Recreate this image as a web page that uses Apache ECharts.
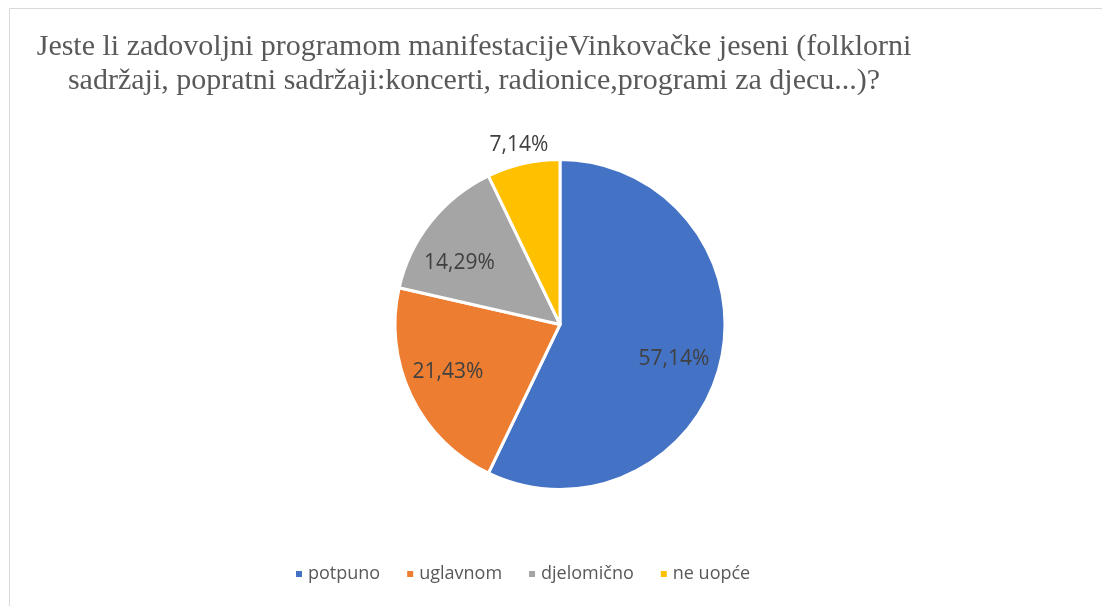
<!DOCTYPE html>
<html>
<head>
<meta charset="utf-8">
<script src="https://cdn.jsdelivr.net/npm/echarts@6/dist/echarts.min.js"></script>
<style>
  html, body { margin: 0; padding: 0; background: #fff; }
  #main { width: 1102px; height: 606px; }
</style>
</head>
<body>
<div id="main"></div>
<script>
var categories = ['potpuno', 'uglavnom', 'djelomično', 'ne uopće'];
var values = [57.14, 21.43, 14.29, 7.14];
var colors = ['#4472C4', '#ED7D31', '#A5A5A5', '#FFC000'];
var titleText = 'Jeste li zadovoljni programom manifestacijeVinkovačke jeseni (folklorni\nsadržaji, popratni sadržaji:koncerti, radionice,programi za djecu...)?';

var center = [560, 324.5];

function pct(p) {
    return p.value.toFixed(2).replace('.', ',') + '%';
}

var pieData = categories.map(function (c, i) {
    return { name: c, value: values[i], itemStyle: { color: colors[i] } };
});

// labels sitting inside the slices (first three)
var innerLabels = categories.map(function (c, i) {
    return { name: c, value: values[i], label: { show: i < 3 } };
});
// label just outside the small slice
var outerLabels = categories.map(function (c, i) {
    return { name: c, value: values[i], label: { show: i == 3 } };
});

var labelStyle = {
    position: 'inside',
    formatter: pct,
    color: '#404040',
    fontFamily: 'Open Sans',
    fontSize: 21
};

// small nudges, Excel does not put the labels exactly on the mid angle
var nudgeX = [-4, -3, -6, 1];
var nudgeY = [8, -5, 14, 5];
function nudge(params) {
    return { dx: nudgeX[params.dataIndex], dy: nudgeY[params.dataIndex] };
}

var myChart = echarts.init(document.getElementById('main'));
option = {
    animation: false,
    title: {
        text: titleText,
        left: 474,
        top: 30,
        padding: 0,
        textAlign: 'center',
        textStyle: {
            fontFamily: 'Liberation Serif',
            fontWeight: 'normal',
            fontSize: 30,
            lineHeight: 34,
            color: '#595959'
        }
    },
    legend: {
        data: categories,
        left: 289,
        top: 560,
        icon: 'rect',
        itemWidth: 8,
        itemHeight: 8,
        itemGap: 25,
        textStyle: {
            fontFamily: 'Open Sans',
            fontSize: 18,
            color: '#595959'
        }
    },
    graphic: [{
        type: 'rect',
        silent: true,
        shape: { x: 9.5, y: 8.5, width: 1200, height: 700 },
        style: { fill: 'none', stroke: '#d9d9d9', lineWidth: 1 }
    }],
    series: [
        {
            type: 'pie',
            center: center,
            radius: 165,
            startAngle: 90,
            data: pieData,
            label: { show: false },
            labelLine: { show: false },
            itemStyle: { borderColor: '#fff', borderWidth: 3 },
            emphasis: { scale: false }
        },
        {
            type: 'pie',
            center: center,
            radius: [70, 166],
            startAngle: 90,
            silent: true,
            data: innerLabels,
            itemStyle: { color: 'transparent' },
            label: labelStyle,
            labelLine: { show: false },
            labelLayout: nudge
        },
        {
            type: 'pie',
            center: center,
            radius: [166, 207],
            startAngle: 90,
            silent: true,
            data: outerLabels,
            itemStyle: { color: 'transparent' },
            label: labelStyle,
            labelLine: { show: false },
            labelLayout: nudge
        }
    ]
};
myChart.setOption(option);
</script>
</body>
</html>
